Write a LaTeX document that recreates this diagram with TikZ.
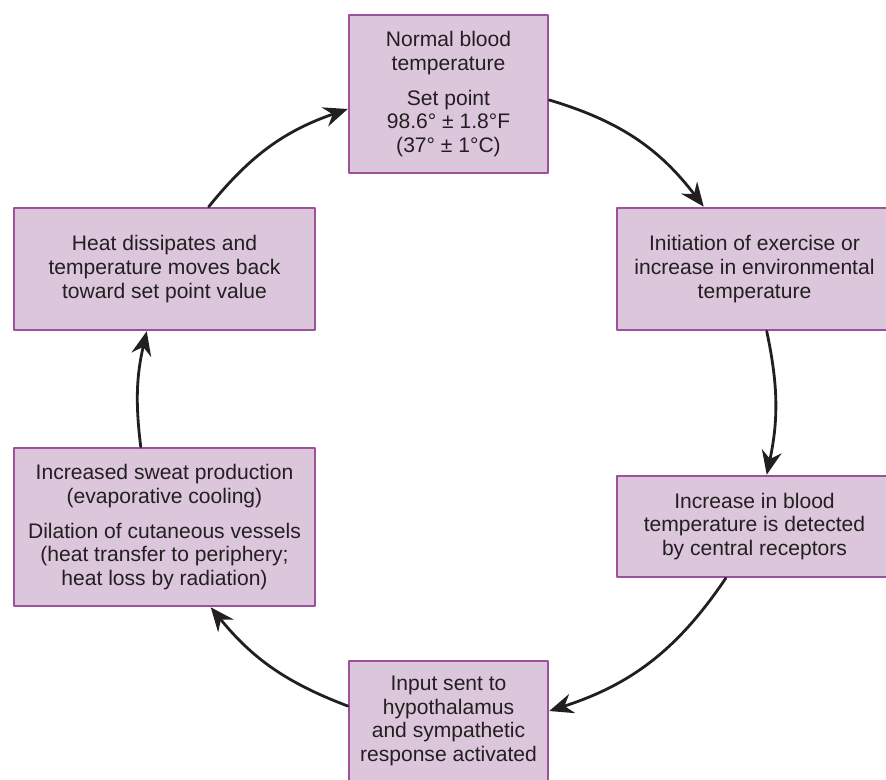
\documentclass[tikz,border=0pt]{standalone}
\usepackage{fontspec}
\setmainfont{Liberation Sans}
\usetikzlibrary{
    arrows.meta,
    calc
}
\definecolor{stagefill}{HTML}{DBC6DC}
\definecolor{stageline}{HTML}{9C519C}
\definecolor{inkgray}{HTML}{231F20}

\begin{document}
\begin{tikzpicture}[
    x=0.75pt,
    y=-0.75pt,
    >={Stealth[length=18pt, width=15pt, inset=6pt]},
    line cap=round,
    line join=round,
    stage/.style={draw=stageline, line width=1.9pt, fill=stagefill,
        text=inkgray, align=center, inner sep=0pt,
        font=\fontsize{15.8}{17.8}\selectfont},
    cycle arrow/.style={->, line width=2.1pt, draw=inkgray}
]

% -------------------------------------------------
% Canvas
% -------------------------------------------------

\useasboundingbox (0,0) rectangle (886,779);
\clip (0,0) rectangle (886,779);

% -------------------------------------------------
% Stages of the loop
% -------------------------------------------------

% Set point
\node[stage, minimum width=149.25pt, minimum height=118.5pt]
    (setpoint) at (448.5,94)
    {Normal blood\\temperature\\[8.5pt]
     Set point\\98.6° ± 1.8°F\\(37° ± 1°C)};

% Stimulus
\node[stage, minimum width=206.25pt, minimum height=91.5pt]
    (exercise) at (754.5,269)
    {Initiation of exercise or\\increase in environmental\\temperature};

% Detection
\node[stage, minimum width=206.25pt, minimum height=75.75pt]
    (detect) at (754.5,526.5)
    {Increase in blood\\temperature is detected\\by central receptors};

% Control center
\node[stage, minimum width=149.25pt, minimum height=90pt]
    (hypo) at (448.5,721)
    {Input sent to\\hypothalamus\\and sympathetic\\response activated};

% Effectors
\node[stage, minimum width=225.75pt, minimum height=118.5pt]
    (cooling) at (164.5,527)
    {Increased sweat production\\(evaporative cooling)\\[8.5pt]
     Dilation of cutaneous vessels\\(heat transfer to periphery;\\heat loss by radiation)};

% Return to set point
\node[stage, minimum width=225.75pt, minimum height=91.5pt]
    (dissipate) at (164.5,269)
    {Heat dissipates and\\temperature moves back\\toward set point value};

% -------------------------------------------------
% Circular arrows
% -------------------------------------------------

\draw[cycle arrow]
    ($(setpoint.east)+(0,6)$)
    to[bend left=18]
    ($(exercise.north west)+(88,0)$);

\draw[cycle arrow]
    ($(exercise.south west)+(151,0)$)
    to[bend left=12]
    ($(detect.north west)+(151,0)$);

\draw[cycle arrow]
    ($(detect.south west)+(110,0)$)
    to[bend left=19]
    ($(hypo.east)+(0,-10)$);

\draw[cycle arrow]
    ($(hypo.west)+(0,-15)$)
    to[bend left=15]
    ($(cooling.south west)+(198,0)$);

\draw[cycle arrow]
    ($(cooling.north west)+(128,0)$)
    to[bend left=10]
    ($(dissipate.south west)+(134,0)$);

\draw[cycle arrow]
    ($(dissipate.north west)+(196,0)$)
    to[bend left=16]
    ($(setpoint.west)+(0,15)$);

\end{tikzpicture}
\end{document}
